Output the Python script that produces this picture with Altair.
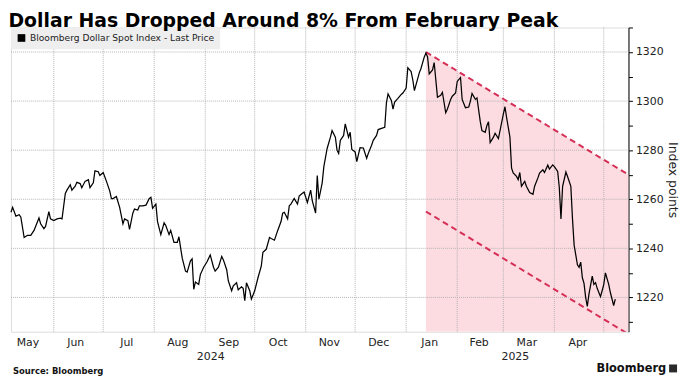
import json
import altair as alt
import pandas as pd

TITLE = "Dollar Has Dropped Around 8% From February Peak"
SERIES = "Bloomberg Dollar Spot Index - Last Price"
SOURCE = "Source: Bloomberg"
BRAND = "Bloomberg"
Y_TITLE = "Index points"

DATES = [
    "2024-05-06", "2024-05-07", "2024-05-09", "2024-05-11", "2024-05-12", "2024-05-14", "2024-05-16",
    "2024-05-18", "2024-05-20", "2024-05-23", "2024-05-24", "2024-05-26", "2024-05-27", "2024-05-29",
    "2024-05-30", "2024-06-01", "2024-06-03", "2024-06-05", "2024-06-06", "2024-06-08", "2024-06-09",
    "2024-06-11", "2024-06-12", "2024-06-14", "2024-06-15", "2024-06-17", "2024-06-18", "2024-06-20",
    "2024-06-22", "2024-06-23", "2024-06-25", "2024-06-26", "2024-06-28", "2024-06-29", "2024-07-01",
    "2024-07-03", "2024-07-05", "2024-07-06", "2024-07-07", "2024-07-09", "2024-07-11", "2024-07-13",
    "2024-07-14", "2024-07-16", "2024-07-17", "2024-07-19", "2024-07-20", "2024-07-22", "2024-07-23",
    "2024-07-25", "2024-07-27", "2024-07-29", "2024-07-30", "2024-07-31", "2024-08-02", "2024-08-03",
    "2024-08-05", "2024-08-07", "2024-08-08", "2024-08-10", "2024-08-11", "2024-08-13", "2024-08-15",
    "2024-08-16", "2024-08-18", "2024-08-20", "2024-08-21", "2024-08-23", "2024-08-24", "2024-08-25",
    "2024-08-26", "2024-08-28", "2024-08-29", "2024-08-31", "2024-09-02", "2024-09-04", "2024-09-06",
    "2024-09-07", "2024-09-09", "2024-09-11", "2024-09-12", "2024-09-14", "2024-09-15", "2024-09-17",
    "2024-09-18", "2024-09-20", "2024-09-21", "2024-09-23", "2024-09-24", "2024-09-25", "2024-09-26",
    "2024-09-28", "2024-09-29", "2024-10-01", "2024-10-03", "2024-10-05", "2024-10-06", "2024-10-08",
    "2024-10-10", "2024-10-11", "2024-10-13", "2024-10-15", "2024-10-17", "2024-10-18", "2024-10-19",
    "2024-10-21", "2024-10-22", "2024-10-23", "2024-10-25", "2024-10-27", "2024-10-28", "2024-10-30",
    "2024-10-31", "2024-11-02", "2024-11-04", "2024-11-05", "2024-11-07", "2024-11-08", "2024-11-09",
    "2024-11-11", "2024-11-12", "2024-11-14", "2024-11-16", "2024-11-17", "2024-11-19", "2024-11-20",
    "2024-11-21", "2024-11-22", "2024-11-24", "2024-11-25", "2024-11-27", "2024-11-28", "2024-11-29",
    "2024-12-01", "2024-12-02", "2024-12-04", "2024-12-06", "2024-12-08", "2024-12-09", "2024-12-11",
    "2024-12-12", "2024-12-14", "2024-12-15", "2024-12-17", "2024-12-19", "2024-12-20", "2024-12-21",
    "2024-12-23", "2024-12-24", "2024-12-25", "2024-12-27", "2024-12-29", "2024-12-30", "2025-01-01",
    "2025-01-02", "2025-01-04", "2025-01-05", "2025-01-06", "2025-01-07", "2025-01-09", "2025-01-10",
    "2025-01-12", "2025-01-13", "2025-01-14", "2025-01-15", "2025-01-17", "2025-01-18", "2025-01-20",
    "2025-01-22", "2025-01-23", "2025-01-25", "2025-01-26", "2025-01-28", "2025-01-29", "2025-01-31",
    "2025-02-01", "2025-02-03", "2025-02-04", "2025-02-06", "2025-02-08", "2025-02-09", "2025-02-10",
    "2025-02-12", "2025-02-13", "2025-02-15", "2025-02-16", "2025-02-18", "2025-02-19", "2025-02-20",
    "2025-02-21", "2025-02-23", "2025-02-24", "2025-02-26", "2025-02-27", "2025-03-01", "2025-03-02",
    "2025-03-03", "2025-03-05", "2025-03-06", "2025-03-07", "2025-03-09", "2025-03-10", "2025-03-11",
    "2025-03-12", "2025-03-14", "2025-03-15", "2025-03-17", "2025-03-19", "2025-03-20", "2025-03-22",
    "2025-03-23", "2025-03-25", "2025-03-26", "2025-03-28", "2025-03-29", "2025-03-31", "2025-04-01",
    "2025-04-03", "2025-04-04", "2025-04-05", "2025-04-06", "2025-04-08", "2025-04-09", "2025-04-11",
    "2025-04-12", "2025-04-13", "2025-04-15", "2025-04-16", "2025-04-17", "2025-04-18", "2025-04-19",
    "2025-04-20", "2025-04-21", "2025-04-22", "2025-04-24", "2025-04-25", "2025-04-26", "2025-04-27",
    "2025-04-29", "2025-04-30", "2025-05-01", "2025-05-02", "2025-05-04", "2025-05-05", "2025-05-07",
    "2025-05-08",
]

VALUES = [
    1254.7, 1256.7, 1253.1, 1253.7, 1252.7, 1244.4, 1245.3,
    1245.3, 1247.3, 1252.4, 1250.0, 1248.0, 1248.9, 1255.0,
    1252.0, 1251.3, 1252.0, 1252.3, 1252.0, 1262.4, 1263.7,
    1265.9, 1263.7, 1265.3, 1266.9, 1266.4, 1264.7, 1267.3,
    1268.0, 1264.7, 1266.7, 1271.6, 1271.2, 1269.7, 1270.9,
    1267.3, 1263.3, 1260.3, 1260.3, 1261.1, 1256.7, 1250.0,
    1252.0, 1251.3, 1247.7, 1254.3, 1256.0, 1255.6, 1257.3,
    1257.3, 1257.6, 1260.3, 1260.8, 1256.3, 1258.0, 1250.9,
    1245.6, 1250.4, 1249.3, 1245.6, 1247.3, 1242.4, 1242.4,
    1244.7, 1236.0, 1230.7, 1230.3, 1234.9, 1235.7, 1223.3,
    1226.3, 1225.3, 1229.3, 1232.3, 1234.4, 1237.3, 1232.3,
    1230.7, 1232.3, 1236.7, 1235.3, 1231.3, 1226.7, 1222.7,
    1224.7, 1226.0, 1223.1, 1224.3, 1223.7, 1218.7, 1226.0,
    1222.7, 1219.3, 1222.7, 1228.0, 1232.7, 1238.4, 1239.6,
    1244.4, 1244.0, 1243.3, 1247.3, 1250.9, 1254.3, 1254.7,
    1252.0, 1257.3, 1258.0, 1260.3, 1258.0, 1261.3, 1262.4,
    1262.9, 1258.7, 1263.7, 1259.3, 1254.4, 1269.7, 1260.0,
    1266.7, 1273.3, 1280.7, 1285.3, 1288.0, 1285.3, 1280.0,
    1278.7, 1284.0, 1286.0, 1290.7, 1285.3, 1287.3, 1280.3,
    1279.3, 1275.3, 1281.0, 1280.9, 1276.7, 1278.7, 1282.0,
    1284.0, 1286.0, 1288.4, 1288.9, 1289.3, 1299.3, 1302.9,
    1300.3, 1296.7, 1299.6, 1301.1, 1302.7, 1303.3, 1305.3,
    1313.6, 1312.0, 1308.7, 1304.3, 1306.7, 1311.6, 1313.3,
    1318.0, 1319.6, 1318.0, 1311.1, 1312.7, 1315.7, 1301.6,
    1302.4, 1303.6, 1295.3, 1296.7, 1300.7, 1302.0, 1303.3,
    1308.0, 1309.6, 1300.7, 1297.3, 1297.6, 1300.0, 1303.1,
    1300.7, 1301.3, 1291.6, 1288.0, 1287.3, 1290.0, 1291.6,
    1283.1, 1285.3, 1286.9, 1284.7, 1288.0, 1294.7, 1297.7,
    1293.3, 1285.3, 1272.7, 1270.7, 1269.3, 1268.0, 1270.9,
    1265.3, 1267.3, 1265.3, 1262.7, 1262.0, 1265.3, 1268.7,
    1270.7, 1272.0, 1270.9, 1273.9, 1272.3, 1274.0, 1273.3,
    1271.3, 1264.7, 1252.0, 1265.3, 1271.1, 1269.3, 1265.3,
    1252.0, 1241.3, 1233.3, 1232.3, 1234.4, 1228.0, 1225.7,
    1220.0, 1216.3, 1221.3, 1228.7, 1225.3, 1226.0, 1223.7,
    1220.3, 1222.7, 1225.3, 1230.0, 1225.3, 1222.0, 1216.7,
    1219.3,
]

# Declining channel drawn from the January peak
BAND_DATES = ["2025-01-13", "2025-05-16"]
BAND_UPPER = [1320, 1270]
BAND_LOWER = [1255, 1205]

X_DOMAIN = ["2024-05-06", "2025-05-16"]
Y_DOMAIN = [1206, 1330]
Y_TICKS = [1210, 1220, 1230, 1240, 1250, 1260, 1270, 1280, 1290, 1300, 1310, 1320, 1330]
Y_GRID = [1220, 1240, 1260, 1280, 1300, 1320]
MONTH_STARTS = ["2024-06-01", "2024-07-01", "2024-08-01", "2024-09-01", "2024-10-01", "2024-11-01",
                "2024-12-01", "2025-01-01", "2025-02-01", "2025-03-01", "2025-04-01", "2025-05-01"]
MONTH_LABEL_DATES = ["2024-05-16", "2024-06-14", "2024-07-15", "2024-08-15", "2024-09-15", "2024-10-15",
                     "2024-11-15", "2024-12-15", "2025-01-15", "2025-02-14", "2025-03-15", "2025-04-15"]
YEAR_LABEL_DATES = ["2024-09-04", "2025-03-08"]

PINK = "#fcdbe1"
CRIMSON = "#d52f56"
GRID = "#b4b4b4"
FONT = "DejaVu Sans"
W, H = 623, 307


def dt(s):
    y, m, d = (int(p) for p in s.split("-"))
    return alt.DateTime(year=y, month=m, date=d, utc=True)


xscale = alt.Scale(type="utc", domain=[dt(d) for d in X_DOMAIN])
yscale = alt.Scale(domain=Y_DOMAIN, zero=False, nice=False)

df = pd.DataFrame({"date": DATES, "value": VALUES, "series": SERIES})
band_df = pd.DataFrame({"date": BAND_DATES, "upper": BAND_UPPER, "lower": BAND_LOWER,
                        "floor": [Y_DOMAIN[0]] * len(BAND_DATES)})
edge_df = pd.concat([
    pd.DataFrame({"date": BAND_DATES, "v": BAND_UPPER, "edge": "upper"}),
    pd.DataFrame({"date": BAND_DATES, "v": BAND_LOWER, "edge": "lower"}),
])
vgrid_df = pd.DataFrame({"date": MONTH_STARTS})
hgrid_df = pd.DataFrame({"v": Y_GRID})

year_keys = json.dumps([d[5:] for d in YEAR_LABEL_DATES]).replace('"', "'")
label_expr = (f"indexof({year_keys}, utcFormat(datum.value, '%m-%d')) >= 0 "
              f"? ['', utcFormat(datum.value, '%Y')] : utcFormat(datum.value, '%b')")

x_axis = alt.Axis(values=[dt(d) for d in MONTH_LABEL_DATES + YEAR_LABEL_DATES],
                  labelExpr=label_expr, grid=False, ticks=False, domain=False,
                  labelFontSize=11, labelFont=FONT, labelColor="#222222", labelPadding=5,
                  labelLineHeight=14, labelOverlap=False, labelFlush=False, labelBound=False,
                  labelAngle=0, title=None)
y_axis = alt.Axis(orient="right", values=Y_TICKS, labelExpr="datum.value % 20 == 0 ? datum.label : ''",
                  format="d", grid=False, tickSize=4, tickColor="black", domainColor="black",
                  labelFontSize=11, labelFont=FONT, labelColor="#222222", labelPadding=3,
                  title=Y_TITLE, titleFontSize=12.5, titleFont=FONT, titleFontWeight="normal",
                  titleColor="#222222", titlePadding=2)


def X(field):
    return alt.X(field, scale=xscale, axis=x_axis)


def Y(field):
    return alt.Y(field, scale=yscale, axis=y_axis)


band = alt.Chart(band_df).mark_area(color=PINK, clip=True).encode(
    x=X("date:T"), y=Y("upper:Q"), y2="floor:Q")
vgrid = alt.Chart(vgrid_df).mark_rule(color=GRID, strokeDash=[1, 1], strokeWidth=1).encode(
    x=X("date:T"), y=alt.value(0), y2=alt.value(H))
hgrid = alt.Chart(hgrid_df).mark_rule(color=GRID, strokeDash=[1, 1], strokeWidth=1).encode(
    y=Y("v:Q"), x=alt.value(0), x2=alt.value(W))
edges = alt.Chart(edge_df).mark_line(color=CRIMSON, strokeDash=[6, 4], strokeWidth=2, clip=True).encode(
    x=X("date:T"), y=Y("v:Q"), detail="edge:N")
line = alt.Chart(df).mark_line(strokeWidth=1.25).encode(
    x=X("date:T"), y=Y("value:Q"),
    color=alt.Color("series:N", scale=alt.Scale(range=["black"]),
                    legend=alt.Legend(title=None, orient="top-left", offset=0, fillColor="#eeeeee",
                                      padding=6, symbolType="square", symbolSize=60,
                                      symbolFillColor="black", symbolStrokeColor="black",
                                      symbolStrokeWidth=0, labelFontSize=9.2, labelFont=FONT,
                                      labelColor="#222222", labelOffset=4, labelLimit=0)),
)
source = alt.Chart(pd.DataFrame({"t": [SOURCE]})).mark_text(
    align="left", baseline="middle", font=FONT, fontSize=8.5, fontWeight="bold", color="#111111").encode(
    text="t:N", x=alt.value(2), y=alt.value(H + 40))
brand = alt.Chart(pd.DataFrame({"t": [BRAND]})).mark_text(
    align="right", baseline="middle", font=FONT, fontSize=11.5, fontWeight="bold", color="#111111").encode(
    text="t:N", x=alt.value(W + 38), y=alt.value(H + 38))
icon = alt.Chart(pd.DataFrame({"t": [BRAND]})).mark_square(size=64, color="#2a2a2a", opacity=1).encode(
    x=alt.value(W + 45), y=alt.value(H + 37))

chart = alt.layer(band, vgrid, hgrid, edges, line, source, brand, icon).properties(
    width=W, height=H,
    padding={"left": 0, "top": 2, "right": 4, "bottom": 0},
    title=alt.TitleParams(TITLE, anchor="start", frame="bounds", fontSize=19, fontWeight="bold",
                          font=FONT, color="black", offset=-4),
).configure_view(stroke=None).configure(background="white")

chart.save("out.html", embed_options={"renderer": "svg", "actions": False})
